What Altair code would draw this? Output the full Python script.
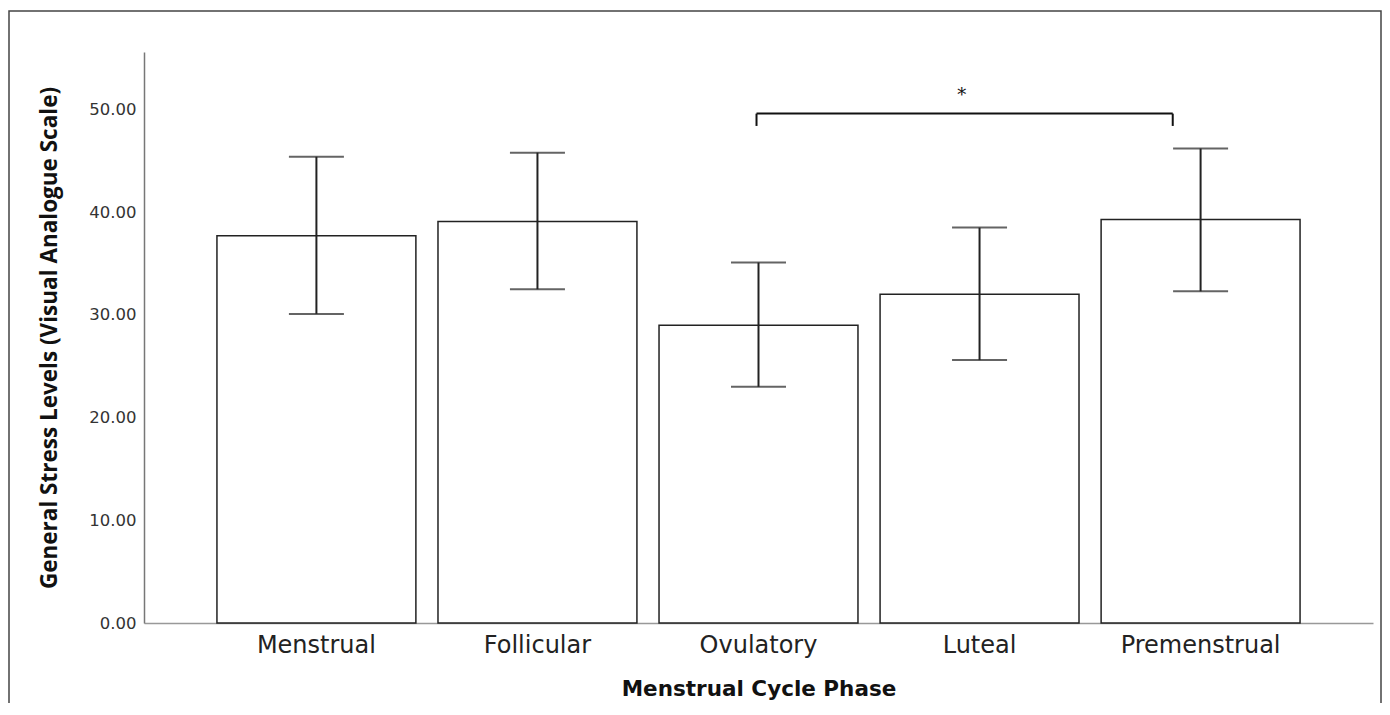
import altair as alt
import pandas as pd

phases = ["Menstrual", "Follicular", "Ovulatory", "Luteal", "Premenstrual"]
means = [37.7, 39.1, 29.0, 32.0, 39.3]
upper = [45.4, 45.8, 35.1, 38.5, 46.2]
lower = [30.1, 32.5, 23.0, 25.6, 32.3]

y_ticks = [0, 10, 20, 30, 40, 50]
y_max = 55.6

bracket_from = ["Ovulatory"]
bracket_to = ["Premenstrual"]
bracket_top = [49.6]
bracket_bottom = [48.4]
star_label = ["*"]
star_at = ["Luteal"]
star_y = [51.3]

df = pd.DataFrame({"phase": phases, "mean": means, "upper": upper, "lower": lower})
br = pd.DataFrame({"from": bracket_from, "to": bracket_to, "top": bracket_top,
                   "bottom": bracket_bottom})
st = pd.DataFrame({"label": star_label, "at": star_at, "y": star_y})

x_scale = alt.Scale(domain=phases, paddingInner=0.1, paddingOuter=0.33)
y_scale = alt.Scale(domain=[0, y_max], nice=False, zero=True)

X_TITLE = "Menstrual Cycle Phase"
Y_TITLE = "General Stress Levels (Visual Analogue Scale)"

x_axis = alt.Axis(title=X_TITLE, labelAngle=0, ticks=False,
                  labelFontSize=24, labelFont="DejaVu Sans", labelColor="#222",
                  labelPadding=10, titleFont="DejaVu Sans", titleFontSize=21.5,
                  titleFontWeight="bold", titleColor="#111", titlePadding=21,
                  domainColor="#999", domainWidth=1.5)
y_axis = alt.Axis(title=Y_TITLE, values=y_ticks, format=".2f", ticks=False, grid=False,
                  labelFont="DejaVu Sans", labelFontSize=16.5, labelColor="#333",
                  labelPadding=8, titleFont="Open Sans", titleFontSize=22.5,
                  titleFontWeight="bold", titleColor="#111", titlePadding=27,
                  domainColor="#777", domainWidth=1.5)

INK = "#222222"


def xf(field, **kw):
    return alt.X(field, scale=x_scale, axis=x_axis, title=X_TITLE, **kw)


def yf(field):
    return alt.Y(field, scale=y_scale, axis=y_axis, title=Y_TITLE)


bars = alt.Chart(df).mark_bar(fill="white", stroke=INK, strokeWidth=1.5).encode(
    x=xf("phase:N", sort=phases),
    y=yf("mean:Q"),
)

whisk = alt.Chart(df).mark_rule(color=INK, strokeWidth=2).encode(
    x=xf("phase:N"), y=yf("lower:Q"), y2="upper:Q",
)
cap_hi = alt.Chart(df).mark_tick(color=INK, thickness=2, size=55, orient="horizontal").encode(
    x=xf("phase:N"), y=yf("upper:Q"),
)
cap_lo = alt.Chart(df).mark_tick(color=INK, thickness=2, size=55, orient="horizontal").encode(
    x=xf("phase:N"), y=yf("lower:Q"),
)

br_h = alt.Chart(br).mark_rule(color="#111", strokeWidth=2).encode(
    x=xf("from:N", bandPosition=0.49),
    x2=alt.X2("to:N", bandPosition=0.36),
    y=yf("top:Q"),
)
br_l = alt.Chart(br).mark_rule(color="#111", strokeWidth=2).encode(
    x=xf("from:N", bandPosition=0.49),
    y=yf("top:Q"), y2="bottom:Q",
)
br_r = alt.Chart(br).mark_rule(color="#111", strokeWidth=2).encode(
    x=xf("to:N", bandPosition=0.36),
    y=yf("top:Q"), y2="bottom:Q",
)
star = alt.Chart(st).mark_text(font="DejaVu Serif", fontSize=18, color="#111",
                               baseline="middle").encode(
    x=xf("at:N", bandPosition=0.41),
    y=yf("y:Q"),
    text="label:N",
)

frame = alt.Chart(alt.Data(values=[{"k": 1}])).mark_rect(
    filled=False, stroke="#444", strokeWidth=1.5).encode(
    x=alt.value(-135), x2=alt.value(1237), y=alt.value(-41), y2=alt.value(720))

chart = alt.layer(bars, whisk, cap_hi, cap_lo, br_h, br_l, br_r, star, frame).properties(
    width=1229, height=571,
    autosize=alt.AutoSizeParams(type="none"),
    padding={"left": 136, "top": 44, "right": 9, "bottom": 80},
    background="white",
).configure_view(stroke=None)

chart.save("out.html", embed_options={"renderer": "svg", "actions": False})
